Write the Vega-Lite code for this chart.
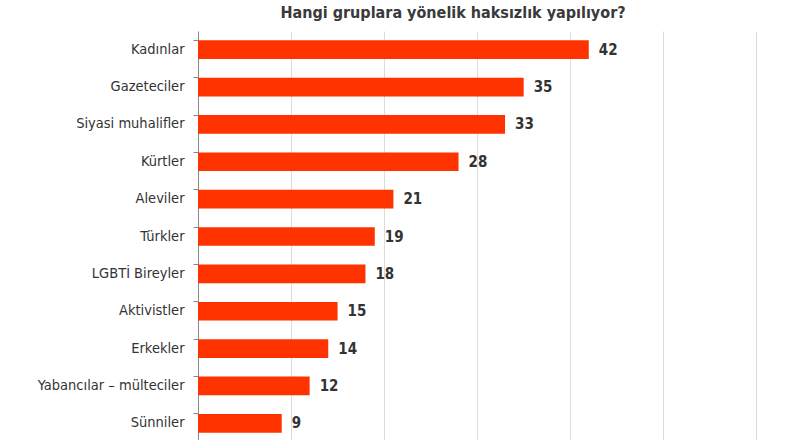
{
  "$schema": "https://vega.github.io/schema/vega-lite/v6.json",
  "width": 602,
  "height": 411,
  "autosize": "none",
  "padding": {"left": 198, "top": 31, "right": 0, "bottom": 0},
  "background": "white",
  "title": {
    "text": "Hangi gruplara yönelik haksızlık yapılıyor?",
    "anchor": "middle",
    "frame": "group",
    "dx": -46,
    "offset": 10,
    "color": "#3a3a3a",
    "font": "DejaVu Sans Condensed, Liberation Sans",
    "fontSize": 16,
    "fontWeight": "bold"
  },
  "data": {
    "values": [
      {"grup": "Kadınlar", "oran": 42},
      {"grup": "Gazeteciler", "oran": 35},
      {"grup": "Siyasi muhalifler", "oran": 33},
      {"grup": "Kürtler", "oran": 28},
      {"grup": "Aleviler", "oran": 21},
      {"grup": "Türkler", "oran": 19},
      {"grup": "LGBTİ Bireyler", "oran": 18},
      {"grup": "Aktivistler", "oran": 15},
      {"grup": "Erkekler", "oran": 14},
      {"grup": "Yabancılar – mülteciler", "oran": 12},
      {"grup": "Sünniler", "oran": 9}
    ]
  },
  "encoding": {
    "y": {
      "field": "grup",
      "type": "nominal",
      "sort": null,
      "title": null,
      "scale": {"paddingInner": 0.5, "paddingOuter": 0.25},
      "axis": {
        "bandPosition": 0,
        "domainColor": "#888",
        "tickColor": "#888",
        "tickSize": 5,
        "labelPadding": 9,
        "labelFont": "DejaVu Sans Condensed, Liberation Sans",
        "labelFontSize": 14.5,
        "labelColor": "#333"
      }
    },
    "x": {
      "field": "oran",
      "type": "quantitative",
      "title": null,
      "scale": {"domain": [0, 64.7], "nice": false},
      "axis": {
        "values": [0, 10, 20, 30, 40, 50, 60],
        "labels": false,
        "ticks": false,
        "domain": false,
        "grid": true,
        "gridColor": "#dcdcdc"
      }
    }
  },
  "layer": [
    {
      "mark": {"type": "bar", "color": "#ff3300"}
    },
    {
      "mark": {
        "type": "text",
        "align": "left",
        "baseline": "middle",
        "dx": 10,
        "font": "DejaVu Sans Condensed, Liberation Sans",
        "fontSize": 15,
        "fontWeight": "bold",
        "color": "#333"
      },
      "encoding": {"text": {"field": "oran", "type": "quantitative"}}
    }
  ],
  "config": {"view": {"stroke": null}}
}
